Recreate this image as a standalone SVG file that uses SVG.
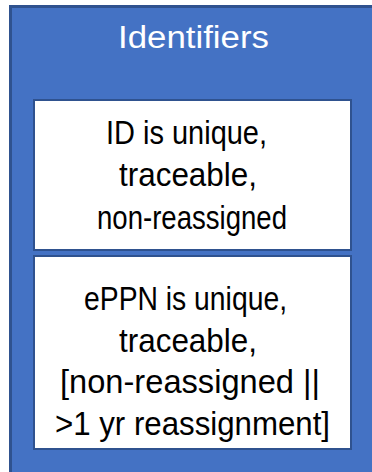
<svg xmlns="http://www.w3.org/2000/svg" width="372" height="472" viewBox="0 0 372 472">
<style>
.outer{fill:#4472C4;stroke:#2F528F;stroke-width:3}
.inner{fill:#FFFFFF;stroke:#2F528F;stroke-width:2}
.t{font-family:"Liberation Sans",Arial,sans-serif;font-size:33px}
.title{fill:#FFFFFF;font-size:31px}
.body{fill:#000000}
</style>
<g id="container">
<rect class="outer" x="10.5" y="6.5" width="370" height="475"/>
<text class="t title" x="118" y="48" textLength="151" lengthAdjust="spacingAndGlyphs">Identifiers</text>
</g>
<g id="node-id">
<rect class="inner" x="34" y="100" width="317" height="150"/>
<text class="t body" x="106" y="144" textLength="161" lengthAdjust="spacingAndGlyphs">ID is unique,</text>
<text class="t body" x="119" y="186" textLength="138" lengthAdjust="spacingAndGlyphs">traceable,</text>
<text class="t body" x="97" y="229" textLength="190" lengthAdjust="spacingAndGlyphs">non-reassigned</text>
</g>
<g id="node-eppn">
<rect class="inner" x="34" y="256" width="317" height="193"/>
<text class="t body" x="84" y="310" textLength="203" lengthAdjust="spacingAndGlyphs">ePPN is unique,</text>
<text class="t body" x="119" y="352" textLength="138" lengthAdjust="spacingAndGlyphs">traceable,</text>
<text class="t body" x="60" y="393" textLength="260" lengthAdjust="spacingAndGlyphs">[non-reassigned ||</text>
<text class="t body" x="55" y="435" textLength="275" lengthAdjust="spacingAndGlyphs">&gt;1 yr reassignment]</text>
</g>
<g id="connectors"/>
</svg>
